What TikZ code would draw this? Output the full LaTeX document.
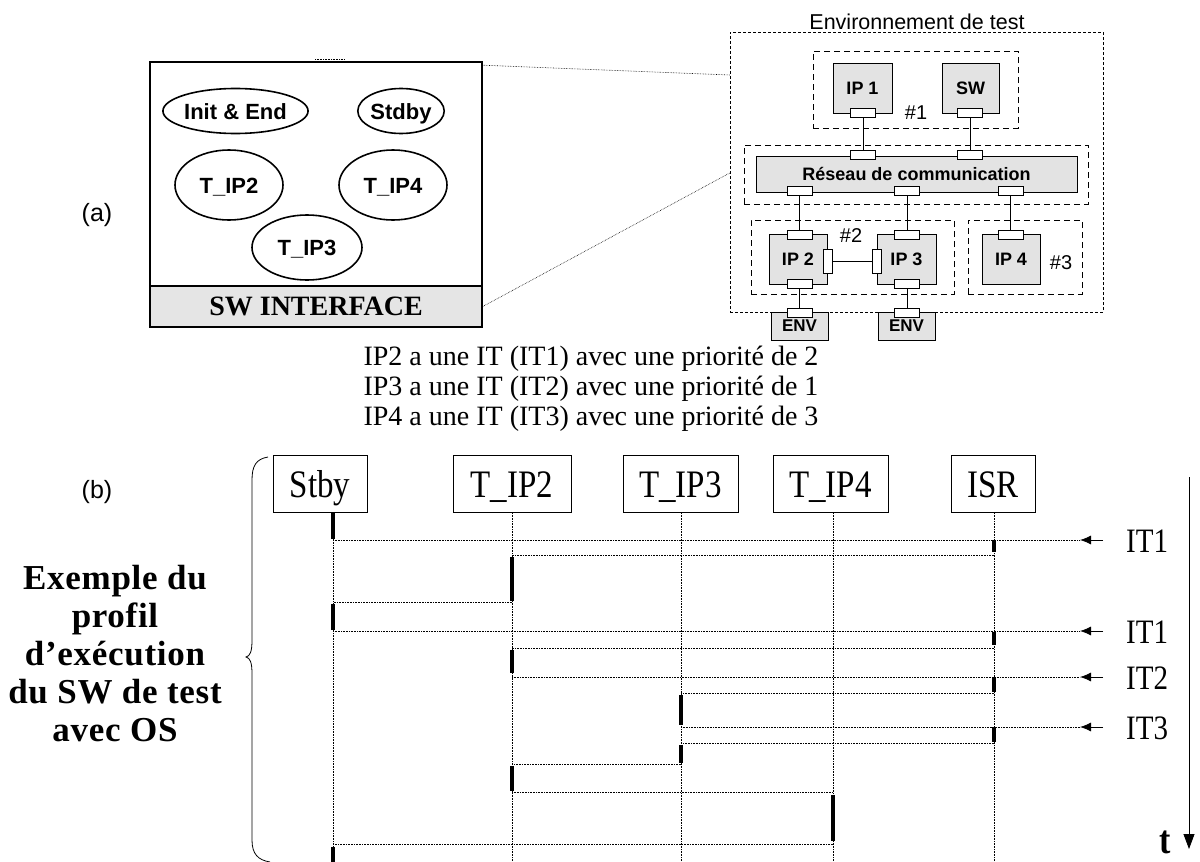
\documentclass[tikz,border=0pt]{standalone}
\usepackage{graphicx}
\usepackage{fontspec}
\setmainfont{Liberation Serif}
\setsansfont{Liberation Sans}
\newfontfamily\bigserif[LetterSpace=2]{Liberation Serif}
\usetikzlibrary{arrows.meta,shapes.geometric}
\newcommand\myfs[1]{\fontsize{#1}{#1}\selectfont}
\newcommand\tall[1]{\scalebox{1}[1.18]{#1}}
\tikzset{
 lbl/.style={inner sep=0, font=\sffamily\myfs{25}},
 ell/.style={ellipse, draw, line width=1.6pt, inner sep=0, text height=16pt, text depth=0pt, font=\sffamily\bfseries\myfs{22}},
 grp/.style={draw, dash pattern=on 6pt off 4pt, line width=0.6pt, inner sep=0},
 envgrp/.style={draw, dash pattern=on 3pt off 2pt, line width=0.6pt, inner sep=0},
 ipbox/.style={draw, fill=gray!22, line width=0.6pt, inner sep=0, font=\sffamily\bfseries\myfs{18}},
 port/.style={draw, fill=white, line width=0.6pt, inner sep=0, minimum width=25pt, minimum height=9pt},
 vport/.style={port, minimum width=9pt, minimum height=24pt},
 wire/.style={line width=0.6pt},
 hash/.style={inner sep=0, font=\sffamily\myfs{20}},
 hdr/.style={draw, line width=0.8pt, inner sep=0, minimum height=57pt, text height=30pt, text depth=4pt, font=\myfs{33}},
 life/.style={densely dotted, line width=0.6pt},
 msgline/.style={densely dotted, line width=0.6pt},
 actbar/.style={line width=3.5pt},
 itarrow/.style={line width=0.8pt, -{Latex[length=11pt,width=9pt]}},
 itlbl/.style={inner sep=0, anchor=base west, font=\myfs{29}},
 zoomline/.style={densely dotted, line width=0.6pt},
 midtxt/.style={inner sep=0, anchor=base, font=\myfs{28}},
 bigtxt/.style={inner sep=0, anchor=base, font=\bigserif\bfseries\myfs{35}},
}
\newcommand\seqact[3]{\draw[actbar] (#1 |- 0,#2) -- (#1 |- 0,#3);}
\newcommand\seqmsg[3]{\draw[msgline] (#1 |- 0,#3) -- (#2 |- 0,#3);}
\begin{document}
\begin{tikzpicture}[x=1pt,y=-1pt]
\useasboundingbox (0,0) rectangle (1200,862);

% ---------- (a) left box ----------
\node[lbl] (la) at (97,215) {(a)};
\node[draw, line width=1.6pt, minimum width=332pt, minimum height=265pt, inner sep=0] (lbox) at (316,194.5) {};
\node[draw, line width=1.6pt, fill=gray!20, minimum width=332pt, minimum height=41pt, inner sep=0, font=\bfseries\myfs{28}] (swi) at (316,306.5) {SW INTERFACE};
\node[ell, minimum width=125pt, minimum height=45pt] (ie) at (235.5,111) {Init \& End};
\node[ell, minimum width=82pt, minimum height=45pt] (sb) at (401,111) {Stdby};
\node[ell, minimum width=108pt, minimum height=70pt] (t2) at (229,185) {T\_IP2};
\node[ell, minimum width=108pt, minimum height=70pt] (t4) at (393,185) {T\_IP4};
\node[ell, minimum width=110pt, minimum height=65pt] (t3) at (307,247.5) {T\_IP3};
\draw[zoomline] (315,59) -- (345,59);

% ---------- environment ----------
\node[envgrp, minimum width=373pt, minimum height=280pt] (env) at (916.5,172) {};
\node[inner sep=0, anchor=base, font=\sffamily\myfs{21.5}] (envt) at (917,29) {Environnement de test};
\node[grp, minimum width=205pt, minimum height=77pt] (g1) at (915.5,89.5) {};
\node[grp, minimum width=344pt, minimum height=59pt] (gn) at (916,174.5) {};
\node[grp, minimum width=203pt, minimum height=74pt] (g2) at (852.5,257) {};
\node[grp, minimum width=114pt, minimum height=74pt] (g3) at (1025,257) {};

\node[ipbox, minimum width=59pt, minimum height=50pt] (ip1) at (862.5,88) {IP 1};
\node[ipbox, minimum width=57pt, minimum height=50pt] (sw) at (970.5,88) {SW};
\node[ipbox, minimum width=321pt, minimum height=36pt] (net) at (916.5,174) {Réseau de communication};
\node[ipbox, minimum width=58pt, minimum height=50pt] (ip2) at (798,259) {IP 2};
\node[ipbox, minimum width=59pt, minimum height=50pt] (ip3) at (906.5,259) {IP 3};
\node[ipbox, minimum width=58pt, minimum height=50pt] (ip4) at (1011,259) {IP 4};
\node[ipbox, minimum width=57pt, minimum height=28pt, font=\sffamily\bfseries\myfs{17}] (env1) at (799.5,326) {ENV};
\node[ipbox, minimum width=57pt, minimum height=28pt, font=\sffamily\bfseries\myfs{17}] (env2) at (906.5,326) {ENV};

\node[hash] (h1) at (916,113) {\#1};
\node[hash] (h2) at (851,236) {\#2};
\node[hash] (h3) at (1061,263) {\#3};

\node[port] (p1) at (863,112.5) {};
\node[port] (p2) at (970,112.5) {};
\node[port] (r1) at (863,155) {};
\node[port] (r2) at (970,155) {};
\node[port] (r3) at (799.5,191) {};
\node[port] (r4) at (907,191) {};
\node[port] (r5) at (1010.5,191) {};
\node[port] (q2t) at (799.5,234.5) {};
\node[port] (q2b) at (799.5,283.5) {};
\node[vport] (q2r) at (827.5,261) {};
\node[port] (q3t) at (907,234.5) {};
\node[port] (q3b) at (907,283.5) {};
\node[vport] (q3l) at (877,261) {};
\node[port] (q4t) at (1010.5,234.5) {};
\node[port] (e1) at (799.5,312.5) {};
\node[port] (e2) at (907,312.5) {};

\draw[wire] (p1) -- (r1);
\draw[wire] (p2) -- (r2);
\draw[wire] (r3) -- (q2t);
\draw[wire] (r4) -- (q3t);
\draw[wire] (r5) -- (q4t);
\draw[wire] (q2r) -- (q3l);
\draw[wire] (q2b) -- (e1);
\draw[wire] (q3b) -- (e2);

\draw[zoomline] ([yshift=-4pt]lbox.north east) -- (env.west |- 0,75);
\draw[zoomline] (swi.east) -- (env.west |- 0,173);

% ---------- priorities text ----------
\node[midtxt] (m1) at (591,365) {IP2 a une IT (IT1) avec une priorité de 2};
\node[midtxt] (m2) at (591,395) {IP3 a une IT (IT2) avec une priorité de 1};
\node[midtxt] (m3) at (591,425) {IP4 a une IT (IT3) avec une priorité de 3};

% ---------- (b) ----------
\node[lbl] (lb) at (97,492) {(b)};
\node[bigtxt] (b1) at (115,589) {Exemple du};
\node[bigtxt] (b2) at (115,627) {profil};
\node[bigtxt] (b3) at (115,665) {d’exécution};
\node[bigtxt] (b4) at (115,703) {du SW de test};
\node[bigtxt] (b5) at (115,741) {avec OS};
\draw[line width=0.8pt] (268,457) .. controls (256,459) and (252,466) .. (252,480) -- (252,640) .. controls (252,652) and (250,656) .. (246,657) .. controls (250,658) and (252,662) .. (252,674) -- (252,840) .. controls (252,854) and (258,860) .. (270,862);

\node[hdr, minimum width=94pt] (hS) at (320,484) {\tall{Stby}};
\node[hdr, minimum width=118pt] (hT2) at (512,484) {\tall{T\_IP2}};
\node[hdr, minimum width=115pt] (hT3) at (680.5,484) {\tall{T\_IP3}};
\node[hdr, minimum width=115pt] (hT4) at (830.5,484) {\tall{T\_IP4}};
\node[hdr, minimum width=84pt] (hI) at (993,484) {\tall{ISR}};

\coordinate (LS) at (333,513);
\coordinate (L2) at (512,513);
\coordinate (L3) at (681,513);
\coordinate (L4) at (833,513);
\coordinate (LI) at (994,513);
\foreach \c in {LS,L2,L3,L4,LI} {\draw[life] (\c) -- (\c |- 0,862);}

\coordinate (ITa) at (1080,540);
\coordinate (ITb) at (1080,631);
\coordinate (ITc) at (1080,677);
\coordinate (ITd) at (1080,727);

\seqact{LS}{513}{539}
\seqmsg{LS}{ITa}{540}
\seqact{LI}{540}{552}
\seqmsg{LI}{L2}{555}
\seqact{L2}{557}{601}
\seqmsg{L2}{LS}{602}
\seqact{LS}{604}{630}
\seqmsg{LS}{ITb}{631}
\seqact{LI}{632}{645}
\seqmsg{LI}{L2}{648}
\seqact{L2}{650}{673}
\seqmsg{L2}{ITc}{677}
\seqact{LI}{677}{692}
\seqmsg{LI}{L3}{693}
\seqact{L3}{695}{725}
\seqmsg{L3}{ITd}{727}
\seqact{LI}{727}{742}
\seqmsg{LI}{L3}{743}
\seqact{L3}{745}{763}
\seqmsg{L3}{L2}{764}
\seqact{L2}{766}{791}
\seqmsg{L2}{L4}{792}
\seqact{L4}{795}{841}
\seqmsg{L4}{LS}{844}
\seqact{LS}{847}{862}

\node[itlbl] (it1) at (1126,552) {\tall{IT1}};
\node[itlbl] (it1b) at (1126,643) {\tall{IT1}};
\node[itlbl] (it2) at (1126,689) {\tall{IT2}};
\node[itlbl] (it3) at (1126,739) {\tall{IT3}};
\draw[itarrow] (it1.west |- ITa) ++(-23,0) -- (ITa);
\draw[itarrow] (it1b.west |- ITb) ++(-23,0) -- (ITb);
\draw[itarrow] (it2.west |- ITc) ++(-23,0) -- (ITc);
\draw[itarrow] (it3.west |- ITd) ++(-23,0) -- (ITd);

\draw[line width=0.8pt, -{Triangle[length=15pt,width=11pt]}] (1189,477) -- (1189,849);
\node[inner sep=0, anchor=base, font=\bfseries\myfs{34}] (tt) at (1165,853) {\tall{t}};
\end{tikzpicture}
\end{document}
